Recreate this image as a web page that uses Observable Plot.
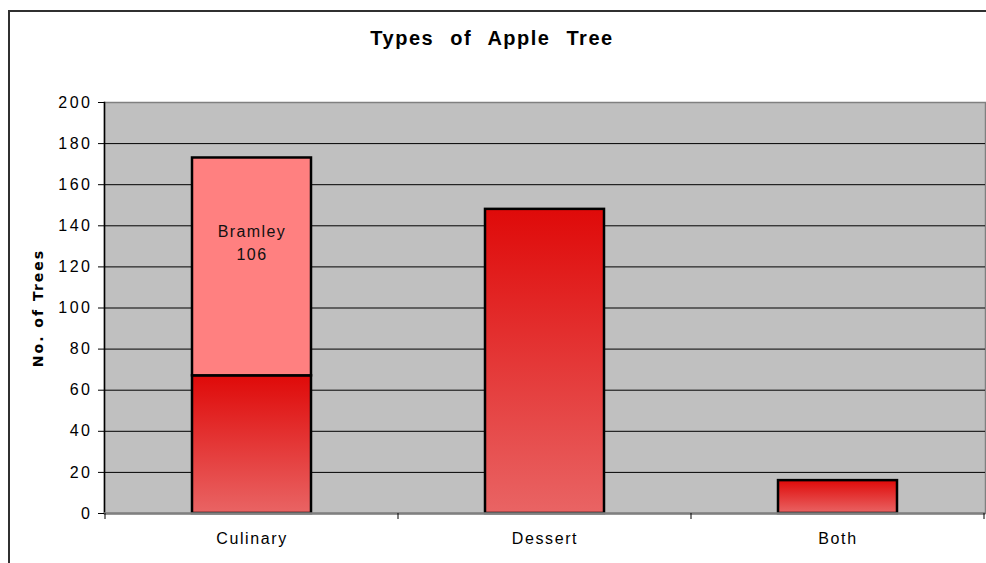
<!DOCTYPE html>
<html>
<head>
<meta charset="utf-8">
<script src="https://cdn.jsdelivr.net/npm/d3@7"></script>
<script src="https://cdn.jsdelivr.net/npm/@observablehq/plot@0.6"></script>
<style>
  html, body { margin: 0; padding: 0; background: #fff; overflow: hidden; }
  #chart { position: relative; width: 986px; height: 563px; overflow: hidden; font-family: "Liberation Sans", Arial, sans-serif; }
  #chart svg { position: absolute; left: 0; top: 0; }
  #title { position: absolute; left: 0; top: 28px; width: 984px; text-align: center;
           font: bold 20px/20px "Liberation Sans", Arial, sans-serif; letter-spacing: 1.5px; word-spacing: 9px; color: #000; }
  .apple [aria-label="y-axis tick label"] { letter-spacing: 2.5px; }
  .apple [aria-label="x-axis tick label"] { letter-spacing: 1.6px; }
  .apple .bar-label { letter-spacing: 1.4px; }
  .apple .y-title { letter-spacing: 2px; }
</style>
</head>
<body>
<div id="chart"></div>
<script>
// Tree counts per apple type; the culinary column is split into Bramley and the rest
const categories = ["Culinary", "Dessert", "Both"];
const otherCounts = [67, 148, 16];
const bramleyCategory = "Culinary";
const bramleyName = "Bramley";
const bramleyCount = 106;
const yTicks = [0, 20, 40, 60, 80, 100, 120, 140, 160, 180, 200];
const yTitle = "No. of Trees";
const chartTitle = "Types of Apple Tree";

const rows = categories.map((c, i) => ({category: c, group: "other", value: otherCounts[i]}));
rows.push({category: bramleyCategory, group: bramleyName, value: bramleyCount});

const culinaryBase = otherCounts[categories.indexOf(bramleyCategory)];
const labelRows = [{category: bramleyCategory, mid: culinaryBase + bramleyCount / 2,
                    text: `${bramleyName}\n${bramleyCount}`}];

// Vertical red gradient used by the plain bars
const gradientDefs = () => {
  const defs = d3.create("svg:defs");
  const g = defs.append("linearGradient").attr("id", "appleGradient")
    .attr("x1", 0).attr("y1", 0).attr("x2", 0).attr("y2", 1);
  g.append("stop").attr("offset", "0%").attr("stop-color", "#df0a09");
  g.append("stop").attr("offset", "100%").attr("stop-color", "#e96464");
  return defs.node();
};

const chart = Plot.plot({
  className: "apple",
  width: 986,
  height: 563,
  marginLeft: 104,
  marginRight: 1,
  marginTop: 102,
  marginBottom: 50,
  style: {fontFamily: "'Liberation Sans', Arial, sans-serif", fontSize: "16px", color: "#000", background: "transparent"},
  x: {domain: categories, paddingInner: 0.595, paddingOuter: 0.2975, label: null},
  y: {domain: [0, 200], label: null},
  color: {type: "identity"},
  marks: [
    gradientDefs,
    Plot.frame({fill: "#c0c0c0", stroke: "#808080", strokeWidth: 1.5}),
    Plot.ruleY(yTicks.filter(t => t > 0 && t < 200), {stroke: "#000", strokeWidth: 1}),
    Plot.frame({anchor: "left", stroke: "#000", strokeWidth: 1.5}),
    Plot.barY(rows, Plot.stackY({
      x: "category",
      y: "value",
      fill: d => d.group === bramleyName ? "#ff8080" : "url(#appleGradient)",
      stroke: "#000",
      strokeWidth: 2.5
    })),
    Plot.ruleY([0], {stroke: "#808080", strokeWidth: 2.5}),
    Plot.text(labelRows, {x: "category", y: "mid", text: "text", dy: -26, lineHeight: 1.45,
                          fontSize: 16, fill: "#111", className: "bar-label"}),
    Plot.axisY({ticks: yTicks, tickSize: 6, tickPadding: 6, fontSize: 16, label: null}),
    Plot.axisX({tickSize: 0, tickPadding: 19, fontSize: 16, label: null}),
    Plot.text([yTitle], {frameAnchor: "left", textAnchor: "middle", rotate: -90, dx: -66, fontSize: 14,
                         fontWeight: "bold", fontFamily: "'DejaVu Sans', sans-serif", fill: "#000",
                         className: "y-title"})
  ]
});

// Category divider ticks below the baseline, placed from the band scale
const xs = chart.scale("x");
const ys = chart.scale("y");
const gap = xs.step - xs.bandwidth;
const edges = categories.map(c => xs.apply(c) - gap / 2);
edges.push(edges[edges.length - 1] + xs.step);
const y0 = ys.apply(0);
const svg = d3.select(chart);
svg.append("g").attr("aria-label", "category dividers")
  .selectAll("line").data(edges).join("line")
  .attr("x1", d => d).attr("x2", d => d)
  .attr("y1", y0).attr("y2", y0 + 6)
  .attr("stroke", "#000").attr("stroke-width", 1);

// Chart-area outline: its left and top edges fall inside the page
svg.append("path").attr("aria-label", "chart area outline")
  .attr("d", "M9,563V11H986")
  .attr("fill", "none").attr("stroke", "#303030").attr("stroke-width", 2);

const host = document.getElementById("chart");
host.appendChild(chart);
const title = document.createElement("div");
title.id = "title";
title.textContent = chartTitle;
host.appendChild(title);
</script>
</body>
</html>
